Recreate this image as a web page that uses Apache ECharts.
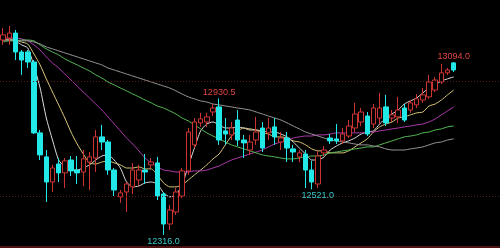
<!DOCTYPE html>
<html><head><meta charset="utf-8">
<script src="https://cdn.jsdelivr.net/npm/echarts@6/dist/echarts.min.js"></script>
<style>html,body{margin:0;padding:0;background:#000}#c{width:500px;height:248px}</style>
</head><body><div id="c"></div>
<script>
// candles: [open, close, low, high]
const candles = [
[13193,13216,13171,13247],[13202,13224,13171,13256],[13224,13139,13103,13238],[13139,13103,13036,13148],[13139,13094,13067,13148],
[13094,12775,12770,13103],[12775,12676,12653,12788],[12667,12554,12464,12698],[12554,12617,12509,12631],[12635,12595,12554,12662],
[12595,12649,12527,12662],[12653,12604,12581,12671],[12608,12595,12545,12671],[12599,12658,12536,12698],[12644,12667,12518,12689],
[12662,12757,12599,12788],[12757,12734,12698,12811],[12734,12608,12586,12743],[12608,12518,12491,12617],[12487,12505,12460,12518],
[12509,12545,12419,12554],[12532,12608,12500,12640],[12563,12608,12536,12631],[12608,12599,12545,12680],[12631,12644,12617,12662],
[12640,12491,12473,12667],[12500,12365,12316,12509],[12365,12428,12338,12451],[12419,12509,12406,12527],[12491,12604,12482,12617],
[12604,12779,12586,12797],[12721,12824,12707,12842],[12820,12838,12802,12865],[12824,12847,12802,12865],[12869,12887,12851,12905],
[12892,12743,12721,12930.5],[12784,12770,12721,12842],[12766,12797,12743,12824],[12833,12743,12716,12878],[12743,12730,12662,12766],
[12698,12734,12676,12766],[12743,12779,12721,12847],[12797,12707,12689,12824],[12775,12797,12743,12842],[12802,12757,12721,12842],
[12734,12752,12698,12779],[12752,12707,12644,12779],[12703,12689,12644,12721],[12667,12685,12644,12698],[12680,12608,12527,12698],
[12608,12554,12521,12649],[12545,12671,12527,12694],[12685,12698,12671,12716],[12752,12739,12725,12770],[12748,12739,12725,12815],
[12739,12770,12725,12797],[12761,12806,12752,12833],[12797,12860,12779,12910],[12824,12869,12806,12887],[12851,12770,12761,12869],
[12815,12887,12797,12905],[12842,12887,12815,12955],[12892,12820,12806,12946],[12842,12856,12824,12878],[12847,12878,12820,12937],
[12887,12833,12824,12905],[12878,12910,12865,12923],[12901,12928,12887,12950],[12923,12946,12910,12977],[12937,13004,12928,13036],
[12968,13013,12959,13027],[13004,13045,12995,13085],[13045,13058,13036,13067],[13090,13058,13049,13094]
];
const ma5 = [13193,13193,13189,13171,13157,13076,12977,12842,12743,12653,
12622,12608,12608,12617,12631,12653,12671,12676,12653,12617,
12554,12532,12536,12550,12554,12545,12505,12487,12496,12541,
12626,12707,12784,12815,12824,12811,12797,12797,12802,12797,
12788,12788,12784,12779,12779,12770,12757,12734,12707,12680,
12653,12653,12667,12698,12716,12730,12739,12752,12770,12779,
12784,12815,12842,12860,12878,12905,12919,12932,12955,12977,
12991,13009,13018,13027];
const ma10 = [13193,13198,13193,13184,13175,13130,13081,13018,12959,12901,
12842,12779,12725,12680,12640,12635,12644,12649,12640,12631,
12617,12617,12622,12613,12613,12586,12550,12532,12532,12541,
12563,12586,12608,12631,12658,12680,12721,12761,12784,12797,
12793,12788,12775,12770,12757,12757,12752,12739,12734,12721,
12703,12694,12694,12685,12685,12685,12694,12712,12730,12748,
12779,12802,12815,12824,12842,12847,12856,12865,12869,12896,
12905,12923,12946,12968];
const ma20 = [13202,13202,13202,13198,13189,13171,13148,13117,13090,13067,
13040,13013,12986,12959,12932,12905,12878,12847,12815,12784,
12752,12725,12694,12662,12640,12622,12608,12604,12599,12599,
12599,12604,12604,12608,12617,12626,12640,12653,12662,12671,
12680,12689,12698,12712,12725,12734,12743,12752,12757,12761,
12761,12766,12766,12770,12775,12775,12775,12775,12775,12779,
12779,12784,12788,12793,12797,12802,12806,12811,12815,12824,
12838,12856,12874,12892];
const ma40 = [13184,13189,13189,13193,13193,13189,13171,13153,13139,13126,
13108,13094,13081,13067,13054,13036,13022,13004,12991,12977,
12964,12950,12937,12923,12910,12896,12887,12874,12860,12842,
12829,12811,12793,12775,12761,12748,12734,12721,12712,12703,
12694,12685,12676,12671,12667,12662,12658,12658,12662,12667,
12671,12671,12676,12685,12689,12694,12698,12703,12707,12712,
12712,12721,12730,12739,12748,12757,12761,12766,12775,12779,
12788,12793,12802,12806];
const ma60 = [13193,13193,13193,13189,13189,13184,13175,13162,13153,13144,
13135,13126,13117,13108,13099,13090,13081,13067,13058,13049,
13040,13031,13022,13013,13004,12995,12986,12977,12964,12950,
12937,12928,12919,12914,12905,12901,12896,12892,12887,12883,
12878,12869,12860,12851,12842,12833,12820,12806,12793,12779,
12770,12761,12752,12743,12739,12734,12730,12725,12721,12721,
12716,12712,12703,12698,12698,12698,12703,12707,12712,12721,
12730,12734,12743,12748];
const levels = [13008, 12491];
// [candle index, price, text, kind]
const marks = [[73,13094,'13094.0','hi'],[35,12930.5,'12930.5','hi'],[26,12316,'12316.0','lo'],[50,12521,'12521.0','lo']];
const slots = 81;
const cats = Array.from({length: slots}, (_, i) => String(i + 1));

const RED = '#cc3434', CYAN = '#22e8e8';
const chart = echarts.init(document.getElementById('c'));
const line = (data, color) => ({type:'line', data, symbol:'none', smooth:0.2, lineStyle:{width:1, color}, silent:true, z:3});
chart.setOption({
  animation:false,
  backgroundColor:'#000',
  grid:{left:0, top:0, width:502.2, bottom:1},
  xAxis:{type:'category', data:cats, boundaryGap:true, axisLabel:{show:false}, axisTick:{show:false},
         axisLine:{show:true, lineStyle:{color:'#4e1212', width:2}}, splitLine:{show:false}},
  yAxis:{type:'value', min:12261.5, max:13373, show:false, splitLine:{show:false}},
  series:[
    {type:'candlestick', data:candles, barWidth:5, z:4,
     itemStyle:{color:'#000', color0:CYAN, borderColor:RED, borderColor0:CYAN, borderWidth:1},
     markLine:{symbol:'none', silent:true, label:{show:false}, animation:false,
       lineStyle:{color:'#5e1818', type:[1,2], width:1},
       data: levels.map(v => ({yAxis:v}))},
     markPoint:{symbol:'circle', symbolSize:0, animation:false, silent:true,
       data: marks.map(m => ({coord:[m[0], m[1]], value:m[1],
         label:{show:true, formatter:m[2], position: m[3]==='hi' ? 'top' : 'bottom', distance: m[3]==='hi'?1:2,
           offset: m[2]==='12521.0' ? [6,0] : [0,0],
           color: m[3]==='hi' ? '#e04646' : '#3cc8c8', fontSize:9, fontFamily:'Liberation Sans'}}))}
    },
    line(ma5, '#dcdcdc'),
    line(ma10, '#d8c878'),
    line(ma20, '#b43cb4'),
    line(ma40, '#58c058'),
    line(ma60, '#9a9a9a')
  ]
});
</script></body></html>
